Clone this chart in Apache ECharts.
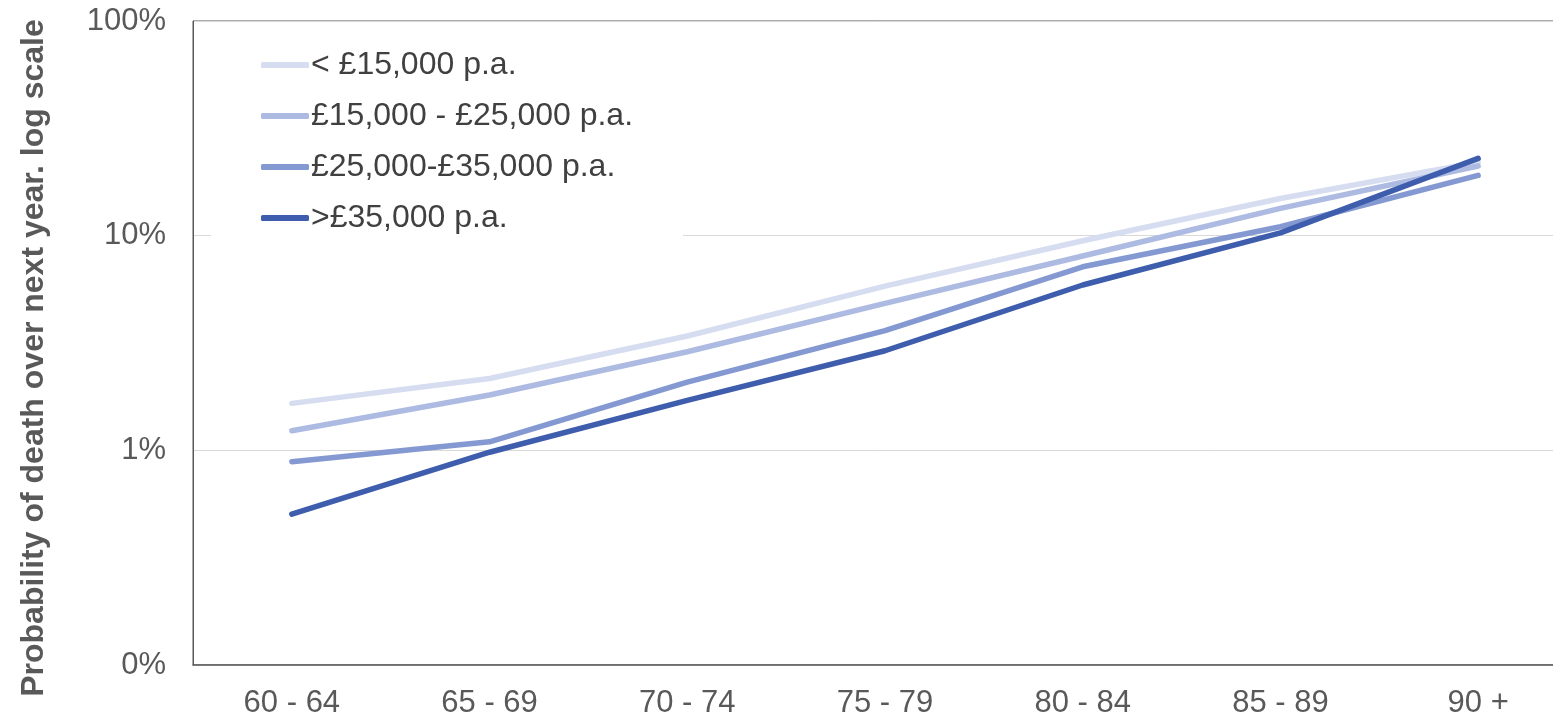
<!DOCTYPE html>
<html>
<head>
<meta charset="utf-8">
<script src="https://cdn.jsdelivr.net/npm/echarts@6/dist/echarts.min.js"></script>
<style>html,body{margin:0;padding:0;background:#fff}#c{width:1553px;height:720px}</style>
</head>
<body>
<div id="c"></div>
<script>
var categories = ['60 - 64', '65 - 69', '70 - 74', '75 - 79', '80 - 84', '85 - 89', '90 +'];
var seriesNames = ['< £15,000 p.a.', '£15,000 - £25,000 p.a.', '£25,000-£35,000 p.a.', '>£35,000 p.a.'];
var under15k = [1.655, 2.16, 3.41, 5.82, 9.47, 14.9, 22.0];
var from15to25k = [1.234, 1.81, 2.88, 4.84, 8.04, 13.4, 21.1];
var from25to35k = [0.885, 1.096, 2.08, 3.61, 7.16, 11.0, 19.1];
var over35k = [0.504, 0.98, 1.71, 2.91, 5.89, 10.3, 22.9];
var colors = ['#D6DDF0', '#ADBBE2', '#8499D2', '#3F5DAD'];
var yAxisName = 'Probability of death over next year. log scale';

var FONT = 'Liberation Sans, Arial, sans-serif';
var chart = echarts.init(document.getElementById('c'));
var allData = [under15k, from15to25k, from25to35k, over35k];
var series = allData.map(function (d, i) {
  return {
    name: seriesNames[i],
    type: 'line',
    data: d,
    symbol: 'none',
    smooth: false,
    lineStyle: { color: colors[i], width: 5.5, cap: 'round', join: 'round' },
    itemStyle: { color: colors[i] },
    z: 2 + i
  };
});
chart.setOption({
  animation: false,
  backgroundColor: '#fff',
  grid: {
    left: 193, right: -24, top: 21, bottom: 55,
    containLabel: false,
    outerBoundsMode: 'none',
    show: true, borderColor: '#595959', borderWidth: 1, backgroundColor: 'transparent'
  },
  legend: {
    orient: 'vertical',
    left: 211, top: 29,
    padding: [20, 50, 8, 50],
    backgroundColor: '#fff',
    icon: 'roundRect',
    itemWidth: 48, itemHeight: 6,
    itemGap: 19,
    data: seriesNames,
    textStyle: { fontFamily: FONT, fontSize: 32, color: '#404040', lineHeight: 32, padding: [0, 0, 0, -3] }
  },
  xAxis: {
    type: 'category',
    data: categories,
    boundaryGap: true,
    axisLine: { show: true, lineStyle: { color: '#595959', width: 1.5 } },
    axisTick: { show: false },
    axisLabel: { fontFamily: FONT, fontSize: 31, color: '#595959', margin: 23 },
    splitLine: { show: false }
  },
  yAxis: {
    type: 'log',
    logBase: 10,
    min: 0.1,
    max: 100,
    name: yAxisName,
    nameLocation: 'middle',
    nameGap: 143,
    nameRotate: 90,
    nameTextStyle: { fontFamily: FONT, fontSize: 32, fontWeight: 'bold', color: '#595959', padding: [0, 0, 0, -30] },
    axisLine: { show: true, lineStyle: { color: '#595959', width: 1 } },
    axisTick: { show: false },
    axisLabel: {
      fontFamily: FONT, fontSize: 31, color: '#595959', margin: 27,
      formatter: function (v) { return v >= 1 ? Math.round(v) + '%' : '0%'; }
    },
    splitLine: { show: true, lineStyle: { color: '#D9D9D9', width: 1 } }
  },
  series: series
});
</script>
</body>
</html>
